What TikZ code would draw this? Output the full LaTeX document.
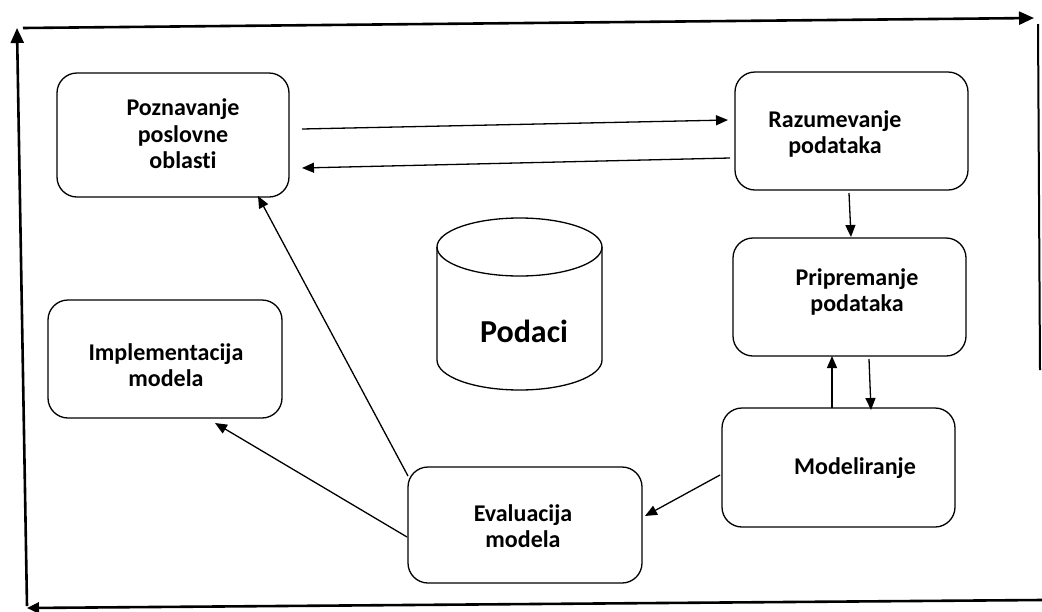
\documentclass[tikz,border=0pt]{standalone}
\usepackage{fontspec}
\setmainfont{Carlito}[Ligatures={NoCommon}]
\usetikzlibrary{arrows.meta}
\begin{document}
\begin{tikzpicture}[x=1pt,y=-1pt,
  box/.style={draw, rounded corners=20pt, line width=1.3pt, inner sep=0pt},
  lbl/.style={font=\fontsize{24}{26.5}\selectfont\bfseries, align=center, inner sep=0pt},
  conn/.style={line width=1.3pt, -{Triangle[length=12pt,width=10pt]}},
  framearrow/.style={line width=2.6pt, -{Triangle[length=15pt,width=13pt]}},
  frameline/.style={line width=2.6pt}]
\useasboundingbox (0,0) rectangle (1042,611);
% outer frame
\coordinate (f1) at (23,28);
\coordinate (f2) at (1034,18);
\coordinate (f3) at (1038,24);
\coordinate (f4) at (1040,370);
\coordinate (f5) at (1042,600);
\coordinate (f6) at (27,608);
\coordinate (f7) at (27,606);
\coordinate (f8) at (17,28);
\draw[framearrow] (f1) -- (f2);
\draw[frameline, line width=2pt] (f3) -- (f4);
\draw[framearrow, -{Triangle[length=12pt,width=11pt]}] (f5) -- (f6);
\draw[framearrow] (f7) -- (f8);
% boxes
\node[box, minimum width=232pt, minimum height=124pt] (pbox) at (173,135) {};
\node[box, minimum width=233pt, minimum height=118pt] (rbox) at (851.5,131) {};
\node[box, minimum width=233pt, minimum height=118pt] (ppbox) at (849.5,297) {};
\node[box, minimum width=233pt, minimum height=119pt] (mbox) at (838.5,467.5) {};
\node[box, minimum width=234pt, minimum height=116pt] (ebox) at (525,525) {};
\node[box, minimum width=234pt, minimum height=118pt] (ibox) at (165,359) {};
% labels
\node[lbl] (ptxt) at (183,134) {Poznavanje\\poslovne\\oblasti};
\node[lbl] (rtxt) at (835,134) {Razumevanje\\podataka};
\node[lbl] (pptxt) at (857,292) {Pripremanje\\podataka};
\node[lbl] (mtxt) at (855,468) {Modeliranje};
\node[lbl] (etxt) at (523,526) {Evaluacija\\modela};
\node[lbl] (itxt) at (166,365) {Implementacija\\modela};
% cylinder
\draw[line width=1.3pt] (437,247) -- (437,360) arc[start angle=180, end angle=0, x radius=82.5, y radius=30] -- (602,247);
\draw[line width=1.3pt] (519.5,247) ellipse[x radius=82.5, y radius=29];
\node[font=\fontsize{32}{36}\selectfont\bfseries, inner sep=0pt] (podaci) at (524,331) {Podaci};
% connector end points
\coordinate (a1s) at (302,129); \coordinate (a1e) at (728,120);
\coordinate (a2s) at (730,158); \coordinate (a2e) at (302,168);
\coordinate (a3s) at (849,193); \coordinate (a3e) at (851,237);
\coordinate (a4s) at (832,408); \coordinate (a4e) at (832,356);
\coordinate (a5s) at (869,359); \coordinate (a5e) at (871,410);
\coordinate (a6s) at (720,475); \coordinate (a6e) at (645,516);
\coordinate (a7s) at (407,537); \coordinate (a7e) at (215,423);
\coordinate (a8s) at (408,476); \coordinate (a8e) at (258,196);
\draw[conn] (a1s) -- (a1e);
\draw[conn] (a2s) -- (a2e);
\draw[conn] (a3s) -- (a3e);
\draw[conn] (a4s) -- (a4e);
\draw[conn] (a5s) -- (a5e);
\draw[conn] (a6s) -- (a6e);
\draw[conn] (a7s) -- (a7e);
\draw[conn] (a8s) -- (a8e);
\end{tikzpicture}
\end{document}
